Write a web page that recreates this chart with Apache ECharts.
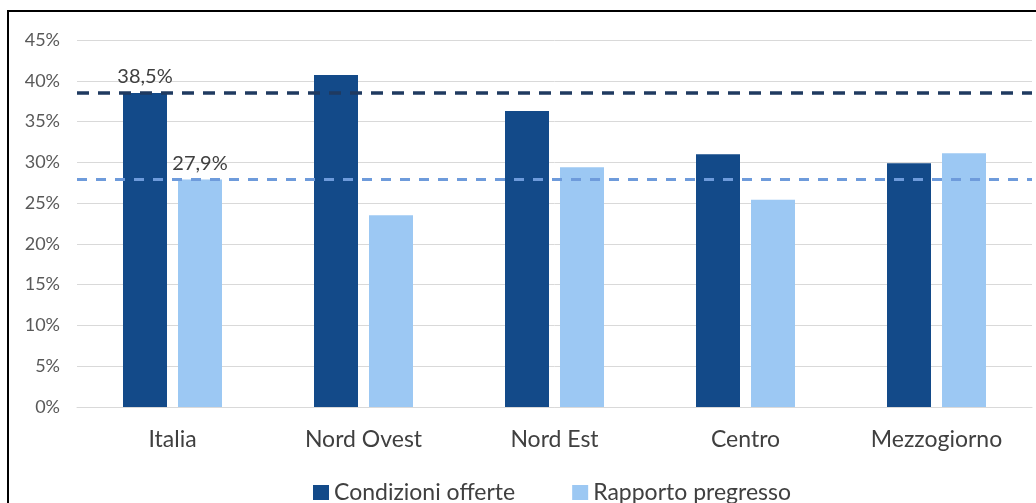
<!DOCTYPE html>
<html>
<head>
<meta charset="utf-8">
<script src="https://cdn.jsdelivr.net/npm/echarts@6/dist/echarts.min.js"></script>
<style>
  html, body { margin: 0; padding: 0; background: #fff; overflow: hidden; }
  .frame {
    position: absolute; left: 7px; top: 10px;
    width: 1100px; height: 560px;
    border: 2px solid #000; box-sizing: border-box;
  }
  #chart { position: absolute; left: 0; top: 0; width: 1036px; height: 503px; }
</style>
</head>
<body>
<div class="frame"></div>
<div id="chart"></div>
<script>
const categories = ['Italia', 'Nord Ovest', 'Nord Est', 'Centro', 'Mezzogiorno'];
const condizioniOfferte = [38.5, 40.7, 36.3, 31.0, 29.9];
const rapportoPregresso = [27.9, 23.5, 29.4, 25.4, 31.1];
const yTicks = [0, 5, 10, 15, 20, 25, 30, 35, 40, 45];

const fmt = v => v.toFixed(1).replace('.', ',') + '%';

// only the Italia bars carry a value label
const withLabel = arr => arr.map((v, i) => ({
  value: v,
  label: { show: i === 0 }
}));

const chart = echarts.init(document.getElementById('chart'));

const option = {
  animation: false,
  textStyle: { fontFamily: 'Lato' },
  grid: { left: 77, right: 4, top: 40, bottom: 96, containLabel: false },
  legend: {
    left: 308,
    top: 476,
    itemWidth: 16,
    itemHeight: 15,
    itemGap: 57,
    icon: 'rect',
    textStyle: { fontSize: 23, color: '#404040', fontFamily: 'Lato' },
    data: ['Condizioni offerte', 'Rapporto pregresso']
  },
  xAxis: {
    type: 'category',
    data: categories,
    axisTick: { show: false },
    axisLine: { lineStyle: { color: '#d9d9d9' } },
    axisLabel: { color: '#404040', fontSize: 23, margin: 21 }
  },
  yAxis: {
    type: 'value',
    min: yTicks[0],
    max: yTicks[yTicks.length - 1],
    interval: 5,
    axisLine: { show: false },
    axisTick: { show: false },
    splitLine: { lineStyle: { color: '#d9d9d9' } },
    axisLabel: { color: '#595959', fontSize: 18, margin: 17, formatter: '{value}%' }
  },
  series: [
    {
      name: 'Condizioni offerte',
      type: 'bar',
      data: withLabel(condizioniOfferte),
      barWidth: 44,
      barGap: '25%',
      itemStyle: { color: '#134A89' },
      label: {
        position: 'top', distance: 6, fontSize: 20, color: '#404040',
        formatter: p => fmt(p.value)
      },
      markLine: {
        silent: true,
        symbol: 'none',
        label: { show: false },
        lineStyle: { color: '#1F3A60', width: 3.5, type: [12, 9] },
        data: [{ yAxis: condizioniOfferte[0] }]
      }
    },
    {
      name: 'Rapporto pregresso',
      type: 'bar',
      data: withLabel(rapportoPregresso),
      barWidth: 44,
      itemStyle: { color: '#9CC8F3' },
      label: {
        position: 'top', distance: 6, fontSize: 20, color: '#404040',
        formatter: p => fmt(p.value)
      },
      markLine: {
        silent: true,
        symbol: 'none',
        label: { show: false },
        lineStyle: { color: '#6E9BDB', width: 3, type: [10, 9] },
        data: [{ yAxis: rapportoPregresso[0] }]
      }
    }
  ]
};

chart.setOption(option);
</script>
</body>
</html>
